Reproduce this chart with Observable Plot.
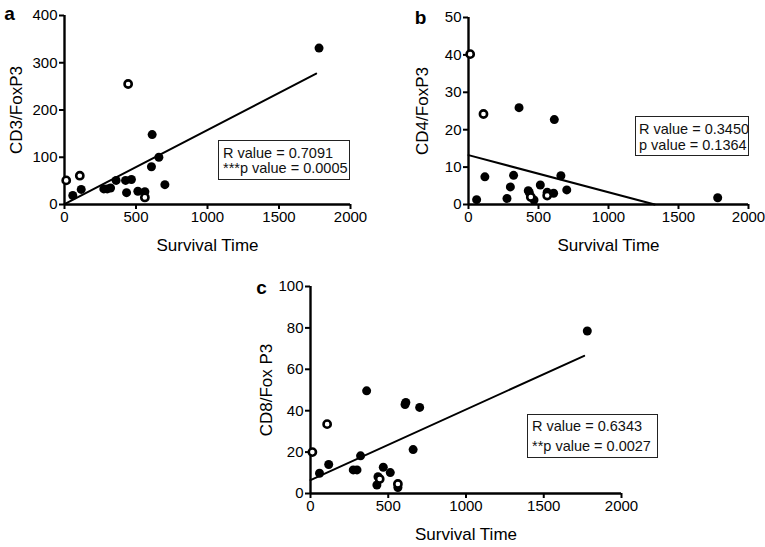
<!DOCTYPE html>
<html>
<head>
<meta charset="utf-8">
<script src="https://cdn.jsdelivr.net/npm/d3@7"></script>
<script src="https://cdn.jsdelivr.net/npm/@observablehq/plot@0.6"></script>
<style>
  html, body { margin: 0; padding: 0; background: #fff; }
  #root { position: relative; width: 765px; height: 547px; overflow: hidden; background: #fff;
          font-family: "Liberation Sans", Arial, Helvetica, sans-serif; color: #000; }
  .panel { position: absolute; }
  .panel svg { overflow: visible; }
  .stat { position: absolute; box-sizing: border-box; border: 1px solid #222; background: #fff;
          font-size: 14.5px; white-space: nowrap; color: #111; }
</style>
</head>
<body>
<div id="root"></div>
<script>
// ---- data ----
const survival = [12, 107, 445, 562, 58, 117, 275, 299, 322, 361, 427, 434, 468, 513, 562, 608, 613, 660, 702, 1780];
const openMarker = [true, true, true, true, false, false, false, false, false, false, false, false, false, false, false, false, false, false, false, false];
const cd3FoxP3 = [51, 61, 255, 15, 19, 32, 33, 33, 35, 51, 51, 25, 53, 28, 27, 80, 148, 100, 42, 331];
const cd4FoxP3 = [40.2, 24.2, 2.0, 2.4, 1.3, 7.4, 1.6, 4.7, 7.8, 25.9, 3.7, 3.2, 1.2, 5.2, 3.3, 3.0, 22.7, 7.7, 3.9, 1.8];
const cd8FoxP3 = [20, 33.5, 7, 4.6, 9.8, 14, 11.4, 11.4, 18.2, 49.6, 4.1, 8.1, 12.7, 10.1, 2.9, 43, 44, 21.2, 41.6, 78.5];

const fitX_A = [0, 1760], fitY_A = [1, 277];
const fitX_B = [0, 1330], fitY_B = [13.2, 0];
const fitX_C = [0, 1760], fitY_C = [6.5, 66.5];

const xTicks = [0, 500, 1000, 1500, 2000];
const yTicksA = [0, 100, 200, 300, 400];
const yTicksB = [0, 10, 20, 30, 40, 50];
const yTicksC = [0, 20, 40, 60, 80, 100];

const statsA = ["R value = 0.7091", "***p value = 0.0005"];
const statsB = ["R value = 0.3450", "p value = 0.1364"];
const statsC = ["R value = 0.6343", "**p value = 0.0027"];

// ---- drawing ----
const fmt = d3.format("d");
function panel(cfg) {
  const pts = survival.map((s, i) => ({x: s, y: cfg.values[i], open: openMarker[i]}));
  const fit = cfg.fitX.map((x, i) => ({x, y: cfg.fitY[i]}));
  return Plot.plot({
    width: cfg.width, height: cfg.height,
    marginLeft: cfg.m[0], marginRight: cfg.m[1], marginTop: cfg.m[2], marginBottom: cfg.m[3],
    x: {domain: [0, 2000]},
    y: {domain: [cfg.yTicks[0], cfg.yTicks[cfg.yTicks.length - 1]]},
    style: {fontFamily: "'Liberation Sans', Arial, Helvetica, sans-serif", fontSize: "15px", color: "#000", background: "transparent", overflow: "visible"},
    marks: [
      Plot.axisX({ticks: xTicks, tickFormat: fmt, tickSize: 5, tickPadding: 2, strokeWidth: 2, label: null}),
      Plot.axisY({ticks: cfg.yTicks, tickFormat: fmt, tickSize: 5, tickPadding: 2, strokeWidth: 2, label: null}),
      Plot.ruleY([cfg.yTicks[0]], {stroke: "#000", strokeWidth: 2.4}),
      Plot.ruleX([0], {stroke: "#000", strokeWidth: 2.4}),
      Plot.line(fit, {x: "x", y: "y", stroke: "#000", strokeWidth: 2}),
      Plot.dot(pts.filter(d => !d.open), {x: "x", y: "y", r: 4.5, fill: "#000", stroke: "none"}),
      Plot.dot(pts.filter(d => d.open), {x: "x", y: "y", r: 3.6, fill: "#fff", stroke: "#000", strokeWidth: 2.6}),
      Plot.text([cfg.yLabel], {frameAnchor: "left", rotate: -90, dx: cfg.yLabelDx, textAnchor: "middle", lineAnchor: "middle", fontSize: 17}),
      Plot.text(["Survival Time"], {frameAnchor: "bottom", dy: cfg.xLabelDy, textAnchor: "middle", lineAnchor: "middle", fontSize: 17}),
      Plot.text([cfg.letter], {frameAnchor: "top-left", dx: cfg.letterD[0], dy: cfg.letterD[1], textAnchor: "middle", lineAnchor: "middle", fontSize: 19, fontWeight: "bold"})
    ]
  });
}

const root = document.getElementById("root");
function place(el, left, top) {
  const d = document.createElement("div");
  d.className = "panel";
  d.style.left = left + "px"; d.style.top = top + "px";
  d.appendChild(el);
  root.appendChild(d);
}
function statBox(lines, left, top, w, h, lh, padTop, padLeft) {
  const d = document.createElement("div");
  d.className = "stat";
  Object.assign(d.style, {left: left + "px", top: top + "px", width: w + "px", height: h + "px",
    lineHeight: lh + "px", paddingTop: padTop + "px", paddingLeft: padLeft + "px"});
  lines.forEach(t => { const s = document.createElement("div"); s.textContent = t; d.appendChild(s); });
  root.appendChild(d);
}

place(panel({values: cd3FoxP3, yTicks: yTicksA, fitX: fitX_A, fitY: fitY_A, yLabel: "CD3/FoxP3", letter: "a",
  width: 380, height: 260, m: [64, 30, 15, 56], yLabelDx: -48, xLabelDy: 41, letterD: [-55, -2]}), 0, 0);
place(panel({values: cd4FoxP3, yTicks: yTicksB, fitX: fitX_B, fitY: fitY_B, yLabel: "CD4/FoxP3", letter: "b",
  width: 385, height: 260, m: [88, 17, 17, 56], yLabelDx: -45.5, xLabelDy: 41, letterD: [-48, 0.5]}), 380, 0);
place(panel({values: cd8FoxP3, yTicks: yTicksC, fitX: fitX_C, fitY: fitY_C, yLabel: "CD8/Fox P3", letter: "c",
  width: 440, height: 297, m: [90, 39, 36, 54], yLabelDx: -44, xLabelDy: 41, letterD: [-49, 1]}), 220, 250);

statBox(statsA, 218, 140, 132, 40, 15, 5, 4);
statBox(statsB, 635, 116, 114, 40, 16, 3.5, 3);
statBox(statsC, 527, 414, 131, 44, 20, 0.5, 4);
</script>
</body>
</html>
